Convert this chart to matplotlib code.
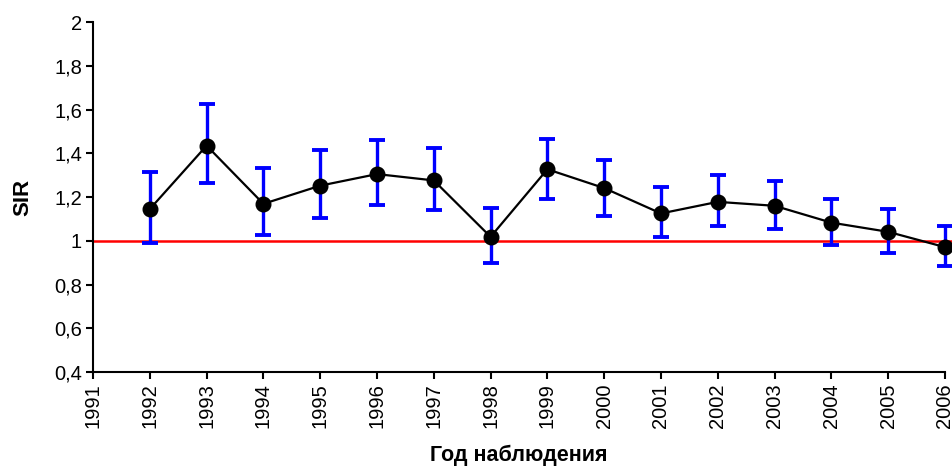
import numpy as np
import matplotlib.pyplot as plt

plt.rcParams['font.family'] = ['Liberation Sans', 'DejaVu Sans']

# Данные: SIR по годам наблюдения с доверительными интервалами
years = [1992, 1993, 1994, 1995, 1996, 1997, 1998, 1999, 2000,
         2001, 2002, 2003, 2004, 2005, 2006]
sir = [1.145, 1.435, 1.169, 1.252, 1.305, 1.276, 1.018, 1.327, 1.241,
       1.125, 1.178, 1.160, 1.083, 1.041, 0.971]
ci_upper = [1.313, 1.624, 1.331, 1.413, 1.461, 1.423, 1.148, 1.467, 1.369,
            1.247, 1.299, 1.275, 1.191, 1.145, 1.069]
ci_lower = [0.990, 1.264, 1.025, 1.105, 1.162, 1.139, 0.900, 1.192, 1.115,
            1.016, 1.067, 1.052, 0.981, 0.943, 0.885]
year_ticks = list(range(1991, 2007))
y_ticks = [0.4, 0.6, 0.8, 1.0, 1.2, 1.4, 1.6, 1.8, 2.0]
y_tick_labels = ['0,4', '0,6', '0,8', '1', '1,2', '1,4', '1,6', '1,8', '2']
reference = 1.0

sir = np.array(sir)
yerr = [sir - np.array(ci_lower), np.array(ci_upper) - sir]

fig = plt.figure(figsize=(9.52, 4.7), dpi=100)
ax = fig.add_axes([0.0977, 0.2085, 0.8949, 0.7445])

ax.axhline(reference, xmin=0, xmax=1.01, color='red', lw=1.8, clip_on=False, zorder=1)
ax.errorbar(years, sir, yerr=yerr, fmt='none', ecolor='#0000ff', elinewidth=2.4,
            capsize=5.8, capthick=2.8, clip_on=False, zorder=2)
ax.plot(years, sir, color='black', lw=1.6, marker='o', markersize=10.5,
        clip_on=False, zorder=3)

ax.set_xlim(1991, 2006)
ax.set_ylim(0.4, 2.0)
ax.set_xticks(year_ticks)
ax.set_xticklabels([str(y) for y in year_ticks], rotation=90)
ax.set_yticks(y_ticks)
ax.set_yticklabels(y_tick_labels)

for s in ['top', 'right']:
    ax.spines[s].set_visible(False)
for s in ['left', 'bottom']:
    ax.spines[s].set_linewidth(1.5)
ax.tick_params(direction='out', length=5, width=1.5, labelsize=14.5, pad=3)

ax.set_ylabel('SIR', fontsize=16, fontweight='bold', labelpad=15)
ax.set_xlabel('Год наблюдения', fontsize=15.5, fontweight='bold', labelpad=12)

fig.savefig('out.png', dpi=100)
